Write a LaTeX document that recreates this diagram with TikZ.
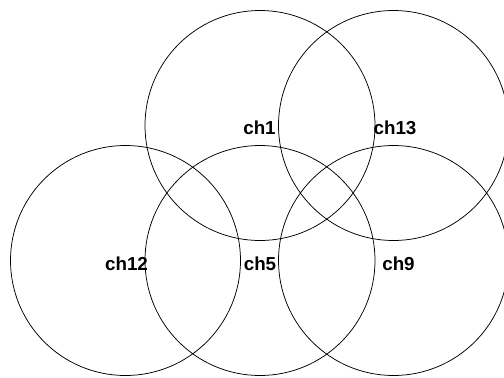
\documentclass[tikz,border=0pt]{standalone}
\usepackage{fontspec}
\setmainfont{Liberation Sans}
\begin{document}
\begin{tikzpicture}[x=1pt,y=-1pt,
  cell/.style={draw=black,line width=0.75pt,circle,minimum size=230pt,inner sep=0pt},
  lbl/.style={font=\fontsize{18.8}{19}\selectfont\bfseries,inner sep=0pt,anchor=base}]
\useasboundingbox (0,0) rectangle (504,378);
\clip (0,0) rectangle (504,378);
\node[cell] (c1)  at (260,125.5) {};
\node[cell] (c13) at (393.5,125.5) {};
\node[cell] (c12) at (125.5,260.5) {};
\node[cell] (c5)  at (260,260.5) {};
\node[cell] (c9)  at (393.5,260.5) {};
\node[lbl] (l1)  at (259.5,134.5) {ch1};
\node[lbl] (l13) at (395,134.5) {ch13};
\node[lbl] (l12) at (126.5,270) {ch12};
\node[lbl] (l5)  at (260,270) {ch5};
\node[lbl] (l9)  at (398.5,270) {ch9};
\end{tikzpicture}
\end{document}
